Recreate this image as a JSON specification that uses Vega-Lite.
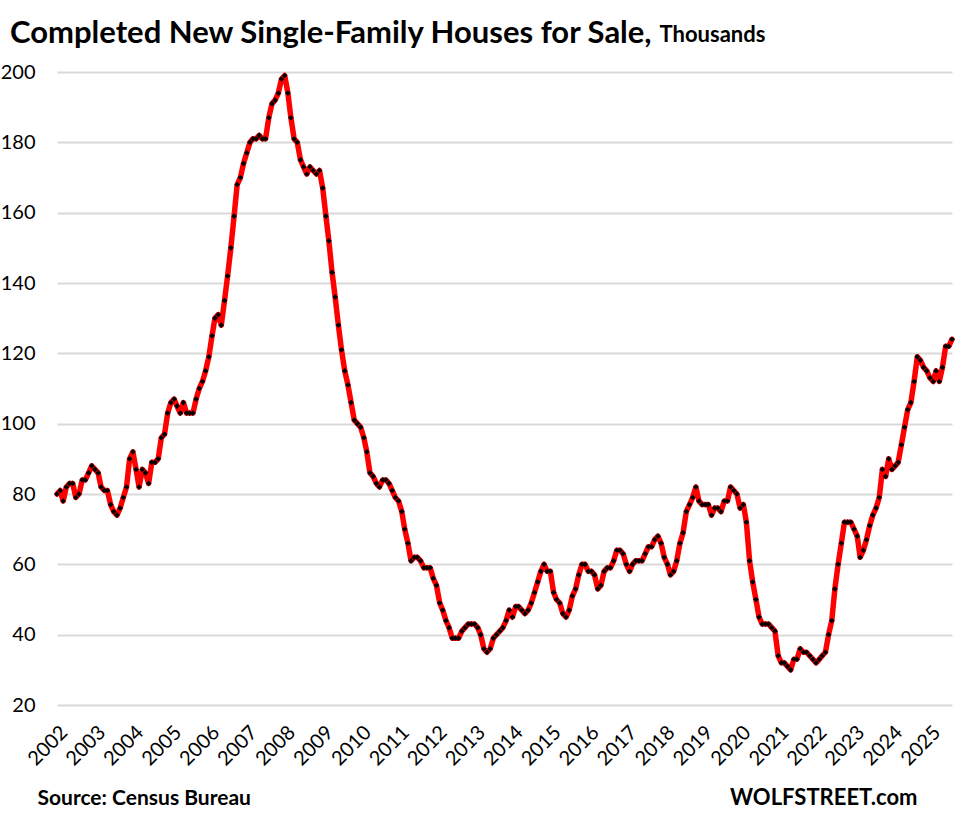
{
  "$schema": "https://vega.github.io/schema/vega-lite/v6.json",
  "width": 895,
  "height": 633,
  "autosize": {"type": "none"},
  "padding": {"left": 57, "top": 72, "right": 7, "bottom": 111},
  "background": "white",
  "title": {
    "text": "Completed New Single-Family Houses for Sale,",
    "anchor": "start",
    "frame": "group",
    "dx": -47,
    "offset": -51,
    "baseline": "alphabetic",
    "font": "Lato",
    "fontSize": 31,
    "fontWeight": "bold",
    "color": "black"
  },
  "data": {
    "values": [
      {"d":"2002/01/01","v":80},{"d":"2002/02/01","v":81},{"d":"2002/03/01","v":78},{"d":"2002/04/01","v":82},{"d":"2002/05/01","v":83},{"d":"2002/06/01","v":83},{"d":"2002/07/01","v":79},{"d":"2002/08/01","v":80},{"d":"2002/09/01","v":84},{"d":"2002/10/01","v":84},{"d":"2002/11/01","v":86},{"d":"2002/12/01","v":88},
      {"d":"2003/01/01","v":87},{"d":"2003/02/01","v":86},{"d":"2003/03/01","v":82},{"d":"2003/04/01","v":81},{"d":"2003/05/01","v":81},{"d":"2003/06/01","v":77},{"d":"2003/07/01","v":75},{"d":"2003/08/01","v":74},{"d":"2003/09/01","v":76},{"d":"2003/10/01","v":79},{"d":"2003/11/01","v":82},{"d":"2003/12/01","v":90},
      {"d":"2004/01/01","v":92},{"d":"2004/02/01","v":87},{"d":"2004/03/01","v":82},{"d":"2004/04/01","v":87},{"d":"2004/05/01","v":86},{"d":"2004/06/01","v":83},{"d":"2004/07/01","v":89},{"d":"2004/08/01","v":89},{"d":"2004/09/01","v":90},{"d":"2004/10/01","v":96},{"d":"2004/11/01","v":97},{"d":"2004/12/01","v":103},
      {"d":"2005/01/01","v":106},{"d":"2005/02/01","v":107},{"d":"2005/03/01","v":105},{"d":"2005/04/01","v":103},{"d":"2005/05/01","v":106},{"d":"2005/06/01","v":103},{"d":"2005/07/01","v":103},{"d":"2005/08/01","v":103},{"d":"2005/09/01","v":107},{"d":"2005/10/01","v":110},{"d":"2005/11/01","v":112},{"d":"2005/12/01","v":115},
      {"d":"2006/01/01","v":119},{"d":"2006/02/01","v":125},{"d":"2006/03/01","v":130},{"d":"2006/04/01","v":131},{"d":"2006/05/01","v":128},{"d":"2006/06/01","v":135},{"d":"2006/07/01","v":142},{"d":"2006/08/01","v":150},{"d":"2006/09/01","v":159},{"d":"2006/10/01","v":168},{"d":"2006/11/01","v":170},{"d":"2006/12/01","v":174},
      {"d":"2007/01/01","v":177},{"d":"2007/02/01","v":180},{"d":"2007/03/01","v":181},{"d":"2007/04/01","v":181},{"d":"2007/05/01","v":182},{"d":"2007/06/01","v":181},{"d":"2007/07/01","v":181},{"d":"2007/08/01","v":187},{"d":"2007/09/01","v":191},{"d":"2007/10/01","v":192},{"d":"2007/11/01","v":194},{"d":"2007/12/01","v":198},
      {"d":"2008/01/01","v":199},{"d":"2008/02/01","v":194},{"d":"2008/03/01","v":187},{"d":"2008/04/01","v":181},{"d":"2008/05/01","v":180},{"d":"2008/06/01","v":175},{"d":"2008/07/01","v":173},{"d":"2008/08/01","v":171},{"d":"2008/09/01","v":173},{"d":"2008/10/01","v":172},{"d":"2008/11/01","v":171},{"d":"2008/12/01","v":172},
      {"d":"2009/01/01","v":167},{"d":"2009/02/01","v":159},{"d":"2009/03/01","v":152},{"d":"2009/04/01","v":143},{"d":"2009/05/01","v":136},{"d":"2009/06/01","v":128},{"d":"2009/07/01","v":121},{"d":"2009/08/01","v":115},{"d":"2009/09/01","v":111},{"d":"2009/10/01","v":106},{"d":"2009/11/01","v":101},{"d":"2009/12/01","v":100},
      {"d":"2010/01/01","v":99},{"d":"2010/02/01","v":96},{"d":"2010/03/01","v":92},{"d":"2010/04/01","v":86},{"d":"2010/05/01","v":85},{"d":"2010/06/01","v":83},{"d":"2010/07/01","v":82},{"d":"2010/08/01","v":84},{"d":"2010/09/01","v":84},{"d":"2010/10/01","v":83},{"d":"2010/11/01","v":81},{"d":"2010/12/01","v":79},
      {"d":"2011/01/01","v":78},{"d":"2011/02/01","v":75},{"d":"2011/03/01","v":70},{"d":"2011/04/01","v":66},{"d":"2011/05/01","v":61},{"d":"2011/06/01","v":62},{"d":"2011/07/01","v":62},{"d":"2011/08/01","v":61},{"d":"2011/09/01","v":59},{"d":"2011/10/01","v":59},{"d":"2011/11/01","v":59},{"d":"2011/12/01","v":56},
      {"d":"2012/01/01","v":54},{"d":"2012/02/01","v":49},{"d":"2012/03/01","v":47},{"d":"2012/04/01","v":44},{"d":"2012/05/01","v":42},{"d":"2012/06/01","v":39},{"d":"2012/07/01","v":39},{"d":"2012/08/01","v":39},{"d":"2012/09/01","v":41},{"d":"2012/10/01","v":42},{"d":"2012/11/01","v":43},{"d":"2012/12/01","v":43},
      {"d":"2013/01/01","v":43},{"d":"2013/02/01","v":42},{"d":"2013/03/01","v":40},{"d":"2013/04/01","v":36},{"d":"2013/05/01","v":35},{"d":"2013/06/01","v":36},{"d":"2013/07/01","v":39},{"d":"2013/08/01","v":40},{"d":"2013/09/01","v":41},{"d":"2013/10/01","v":42},{"d":"2013/11/01","v":44},{"d":"2013/12/01","v":47},
      {"d":"2014/01/01","v":45},{"d":"2014/02/01","v":48},{"d":"2014/03/01","v":48},{"d":"2014/04/01","v":47},{"d":"2014/05/01","v":46},{"d":"2014/06/01","v":47},{"d":"2014/07/01","v":49},{"d":"2014/08/01","v":52},{"d":"2014/09/01","v":55},{"d":"2014/10/01","v":58},{"d":"2014/11/01","v":60},{"d":"2014/12/01","v":58},
      {"d":"2015/01/01","v":58},{"d":"2015/02/01","v":52},{"d":"2015/03/01","v":50},{"d":"2015/04/01","v":49},{"d":"2015/05/01","v":46},{"d":"2015/06/01","v":45},{"d":"2015/07/01","v":47},{"d":"2015/08/01","v":51},{"d":"2015/09/01","v":53},{"d":"2015/10/01","v":57},{"d":"2015/11/01","v":60},{"d":"2015/12/01","v":60},
      {"d":"2016/01/01","v":58},{"d":"2016/02/01","v":58},{"d":"2016/03/01","v":57},{"d":"2016/04/01","v":53},{"d":"2016/05/01","v":54},{"d":"2016/06/01","v":58},{"d":"2016/07/01","v":59},{"d":"2016/08/01","v":59},{"d":"2016/09/01","v":61},{"d":"2016/10/01","v":64},{"d":"2016/11/01","v":64},{"d":"2016/12/01","v":63},
      {"d":"2017/01/01","v":60},{"d":"2017/02/01","v":58},{"d":"2017/03/01","v":60},{"d":"2017/04/01","v":61},{"d":"2017/05/01","v":61},{"d":"2017/06/01","v":61},{"d":"2017/07/01","v":63},{"d":"2017/08/01","v":65},{"d":"2017/09/01","v":65},{"d":"2017/10/01","v":67},{"d":"2017/11/01","v":68},{"d":"2017/12/01","v":66},
      {"d":"2018/01/01","v":62},{"d":"2018/02/01","v":60},{"d":"2018/03/01","v":57},{"d":"2018/04/01","v":58},{"d":"2018/05/01","v":61},{"d":"2018/06/01","v":66},{"d":"2018/07/01","v":69},{"d":"2018/08/01","v":75},{"d":"2018/09/01","v":77},{"d":"2018/10/01","v":79},{"d":"2018/11/01","v":82},{"d":"2018/12/01","v":78},
      {"d":"2019/01/01","v":77},{"d":"2019/02/01","v":77},{"d":"2019/03/01","v":77},{"d":"2019/04/01","v":74},{"d":"2019/05/01","v":76},{"d":"2019/06/01","v":76},{"d":"2019/07/01","v":75},{"d":"2019/08/01","v":78},{"d":"2019/09/01","v":78},{"d":"2019/10/01","v":82},{"d":"2019/11/01","v":81},{"d":"2019/12/01","v":80},
      {"d":"2020/01/01","v":76},{"d":"2020/02/01","v":77},{"d":"2020/03/01","v":72},{"d":"2020/04/01","v":61},{"d":"2020/05/01","v":55},{"d":"2020/06/01","v":50},{"d":"2020/07/01","v":45},{"d":"2020/08/01","v":43},{"d":"2020/09/01","v":43},{"d":"2020/10/01","v":43},{"d":"2020/11/01","v":42},{"d":"2020/12/01","v":41},
      {"d":"2021/01/01","v":34},{"d":"2021/02/01","v":32},{"d":"2021/03/01","v":32},{"d":"2021/04/01","v":31},{"d":"2021/05/01","v":30},{"d":"2021/06/01","v":33},{"d":"2021/07/01","v":33},{"d":"2021/08/01","v":36},{"d":"2021/09/01","v":35},{"d":"2021/10/01","v":35},{"d":"2021/11/01","v":34},{"d":"2021/12/01","v":33},
      {"d":"2022/01/01","v":32},{"d":"2022/02/01","v":33},{"d":"2022/03/01","v":34},{"d":"2022/04/01","v":35},{"d":"2022/05/01","v":40},{"d":"2022/06/01","v":44},{"d":"2022/07/01","v":53},{"d":"2022/08/01","v":60},{"d":"2022/09/01","v":66},{"d":"2022/10/01","v":72},{"d":"2022/11/01","v":72},{"d":"2022/12/01","v":72},
      {"d":"2023/01/01","v":70},{"d":"2023/02/01","v":68},{"d":"2023/03/01","v":62},{"d":"2023/04/01","v":64},{"d":"2023/05/01","v":67},{"d":"2023/06/01","v":71},{"d":"2023/07/01","v":74},{"d":"2023/08/01","v":76},{"d":"2023/09/01","v":79},{"d":"2023/10/01","v":87},{"d":"2023/11/01","v":85},{"d":"2023/12/01","v":90},
      {"d":"2024/01/01","v":87},{"d":"2024/02/01","v":88},{"d":"2024/03/01","v":89},{"d":"2024/04/01","v":94},{"d":"2024/05/01","v":99},{"d":"2024/06/01","v":104},{"d":"2024/07/01","v":106},{"d":"2024/08/01","v":112},{"d":"2024/09/01","v":119},{"d":"2024/10/01","v":118},{"d":"2024/11/01","v":116},{"d":"2024/12/01","v":115},
      {"d":"2025/01/01","v":113},{"d":"2025/02/01","v":112},{"d":"2025/03/01","v":115},{"d":"2025/04/01","v":112},{"d":"2025/05/01","v":116},{"d":"2025/06/01","v":122},{"d":"2025/07/01","v":122},{"d":"2025/08/01","v":124}
    ]
  },
  "layer": [
    {
      "mark": {"type": "line", "color": "#FF0000", "strokeWidth": 5.5, "strokeJoin": "round", "strokeCap": "round"},
      "encoding": {
        "x": {
          "field": "d",
          "type": "temporal",
          "scale": {"domain": [{"year": 2002, "month": 1, "date": 1}, {"year": 2025, "month": 8, "date": 1}]},
          "axis": {
            "format": "%Y",
            "tickCount": {"interval": "year", "step": 1},
            "labelAngle": -45,
            "labelFont": "Lato",
            "labelFontSize": 20,
            "labelColor": "black",
            "labelPadding": 17,
            "labelOverlap": false,
            "labelBound": false,
            "labelFlush": false,
            "domain": false,
            "ticks": false,
            "grid": false,
            "title": "Source: Census Bureau",
            "titleX": -20,
            "titleY": 99,
            "titleAlign": "left",
            "titleBaseline": "alphabetic",
            "titleFont": "Lato",
            "titleFontSize": 21,
            "titleFontWeight": "bold",
            "titleColor": "black"
          }
        },
        "y": {
          "field": "v",
          "type": "quantitative",
          "scale": {"domain": [20, 200], "nice": false, "zero": false},
          "axis": {
            "values": [20, 40, 60, 80, 100, 120, 140, 160, 180, 200],
            "labelFont": "Lato",
            "labelFontSize": 20,
            "labelColor": "black",
            "labelPadding": 22,
            "domain": false,
            "ticks": false,
            "grid": true,
            "gridColor": "#D9D9D9",
            "gridWidth": 2,
            "title": "Thousands",
            "titleAngle": 0,
            "titleX": 602,
            "titleY": -31,
            "titleAlign": "left",
            "titleBaseline": "alphabetic",
            "titleFont": "Lato",
            "titleFontSize": 22,
            "titleFontWeight": "bold",
            "titleColor": "black"
          }
        }
      }
    },
    {
      "mark": {"type": "point", "shape": "diamond", "filled": true, "color": "black", "size": 32, "opacity": 1},
      "encoding": {
        "x": {
          "field": "d",
          "type": "temporal",
          "axis": {
            "orient": "top",
            "labels": false,
            "ticks": false,
            "domain": false,
            "grid": false,
            "title": "WOLFSTREET.com",
            "titleX": 860,
            "titleY": 732,
            "titleAlign": "right",
            "titleBaseline": "alphabetic",
            "titleFont": "Lato",
            "titleFontSize": 22,
            "titleFontWeight": "bold",
            "titleColor": "black"
          }
        },
        "y": {"field": "v", "type": "quantitative"}
      }
    }
  ],
  "resolve": {"axis": {"x": "independent"}},
  "config": {"view": {"stroke": null}, "font": "Lato"}
}
